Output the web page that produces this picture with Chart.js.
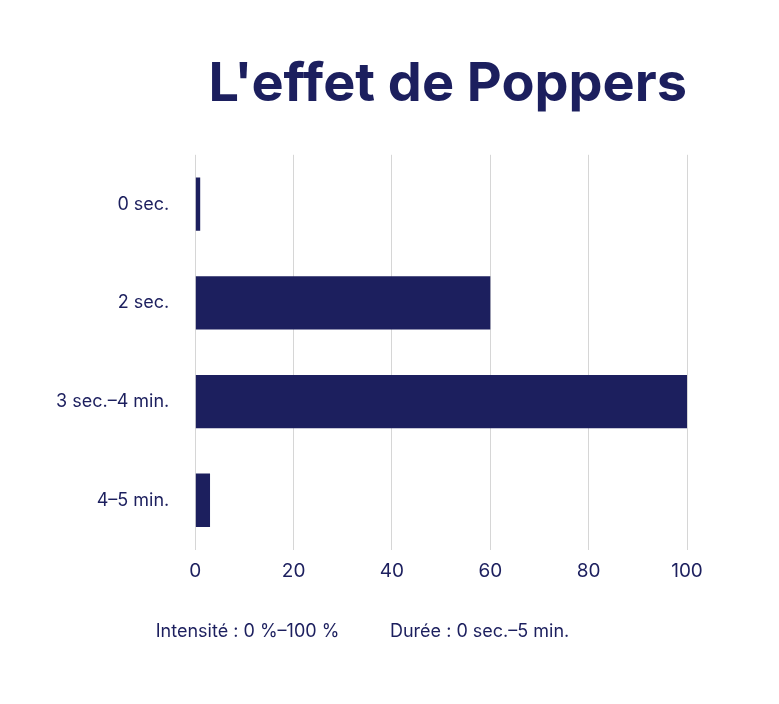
<!DOCTYPE html>
<html><head><meta charset="utf-8">
<script src="https://cdn.jsdelivr.net/npm/chart.js@4"></script>
<style>html,body{margin:0;background:#fff}#w{width:779px;height:704px}</style>
</head><body><div id="w"><canvas id="c"></canvas></div>
<script>
const categories = ["0 sec.", "2 sec.", "3 sec.–4 min.", "4–5 min."];
const values = [1, 60, 100, 3];
const xTicks = [0, 20, 40, 60, 80, 100];
const navy = "#1c1f5e";
new Chart(document.getElementById("c"), {
  type: "bar",
  data: { labels: categories, datasets: [{ data: values, backgroundColor: navy, barPercentage: 0.54, categoryPercentage: 1 }] },
  options: {
    indexAxis: "y", responsive: true, maintainAspectRatio: false, animation: false,
    layout: { padding: { left: 38, right: 92, top: 52, bottom: 62 } },
    plugins: {
      legend: { display: false }, tooltip: { enabled: false },
      title: { display: true, text: "L'effet de Poppers", color: navy, align: "end",
        font: { family: "Inter", size: 54, weight: "bold" }, padding: { top: 0, bottom: 38 } },
      subtitle: { display: true, position: "bottom", align: "center",
        text: "Intensité : 0 %–100 %          Durée : 0 sec.–5 min.", color: navy,
        font: { family: "Inter", size: 18 }, padding: { top: 28 } }
    },
    scales: {
      x: { min: 0, max: 100, afterBuildTicks: s => { s.ticks = xTicks.map(v => ({ value: v })); },
        grid: { color: "#d6d6d6", drawTicks: false }, border: { display: false },
        ticks: { color: navy, font: { family: "Inter", size: 19 }, padding: 10 } },
      y: { grid: { display: false }, border: { display: false },
        ticks: { color: navy, font: { family: "Inter", size: 18 }, padding: 18 } }
    }
  }
});
</script></body></html>
